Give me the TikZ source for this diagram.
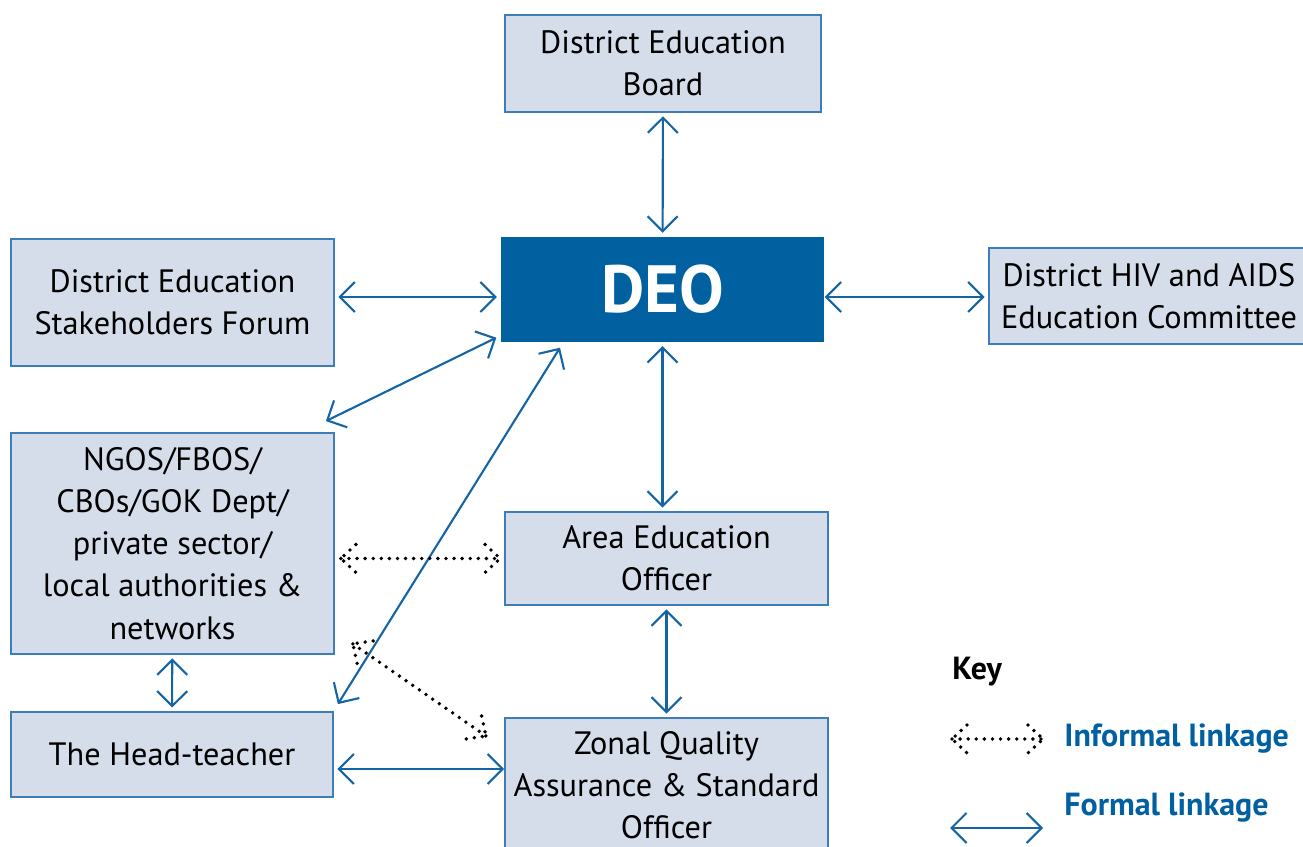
\documentclass[tikz,border=0pt]{standalone}
\usepackage{fontspec}
\setmainfont{PT Sans}
\usetikzlibrary{positioning}
\usetikzlibrary{arrows.meta}
\usetikzlibrary{decorations.markings}
\definecolor{deoblue}{HTML}{0060A0}
\definecolor{boxfill}{HTML}{D5DCEA}
\definecolor{boxline}{HTML}{3D7DB8}
\definecolor{linkblue}{HTML}{1565A5}

\begin{document}
\begin{tikzpicture}[
  font=\fontsize{9.2}{12}\selectfont,
  box/.style={draw=boxline, fill=boxfill, line width=0.5pt, align=center, inner sep=0pt},
  deobox/.style={fill=deoblue, text=white, inner sep=0pt, font=\fontsize{19}{22}\selectfont\bfseries},
  formal/.style={{Straight Barb[length=1.5mm,width=3mm]}-{Straight Barb[length=1.5mm,width=3mm]},
    draw=linkblue, line width=0.6pt, shorten <=1pt, shorten >=1pt},
  dotline/.style={black, line width=1.1pt, line cap=round, dash pattern=on 0pt off 2.3pt},
  informal/.style={dotline, postaction={decorate, decoration={markings,
    mark=at position 0 with {\draw[dotline] (0.15,0.14) -- (0,0) -- (0.15,-0.14);},
    mark=at position 1 with {\draw[dotline] (-0.15,0.14) -- (0,0) -- (-0.15,-0.14);}}}},
  keytext/.style={anchor=west, text=deoblue, font=\fontsize{9.1}{11}\selectfont\bfseries}
]
\useasboundingbox (0,0) rectangle (13.03,8.47);

% Boxes
\node[box, minimum width=3.16cm, minimum height=0.97cm] (board) at (6.63,7.835)
  {District Education\\Board};
\node[deobox, minimum width=3.23cm, minimum height=1.05cm] (deo) at (6.625,5.575) {DEO};
\node[box, minimum width=3.23cm, minimum height=1.27cm] (forum) at (1.725,5.445)
  {District Education\\Stakeholders Forum};
\node[box, minimum width=3.2cm, minimum height=0.96cm] (hiv) at (11.49,5.51)
  {District HIV and AIDS\\Education Committee};
\node[box, minimum width=3.23cm, minimum height=2.21cm] (ngo) at (1.725,3.035)
  {NGOS/FBOS/\\CBOs/GOK Dept/\\private sector/\\local authorities \&\\networks};
\node[box, minimum width=3.22cm, minimum height=0.85cm] (head) at (1.72,0.925)
  {The Head-teacher};
\node[box, minimum width=3.23cm, minimum height=0.93cm] (area) at (6.665,2.885)
  {Area Education\\Officer};
\node[box, minimum width=3.23cm, minimum height=1.34cm] (zonal) at (6.665,0.62)
  {Zonal Quality\\Assurance \& Standard\\Officer};

% Formal linkages
\draw[formal] (board) -- (deo);
\draw[formal] ([yshift=0.55mm]forum.east) -- ([yshift=0.55mm]forum.east -| deo.west);
\draw[formal, shorten <=0pt] ([yshift=-0.75mm]deo.east) -- ([yshift=-0.75mm]deo.east -| hiv.west);
\draw[formal] (deo.south) -- (deo.south |- area.north);
\draw[formal] (area) -- (zonal);
\draw[formal, shorten <=0pt, shorten >=0pt] ([shift={(-0.9mm,1.1mm)}]ngo.north east)
  -- ([shift={(-0.4mm,0.5mm)}]deo.south west);
\draw[formal, shorten <=0pt, shorten >=0pt] ([shift={(0.4mm,0.7mm)}]head.north east)
  -- ([shift={(-10.25mm,-0.5mm)}]deo.south);
\draw[formal] (ngo) -- (head);
\draw[formal, shorten >=0pt] ([yshift=-1.45mm]head.east) -- ([yshift=-1.45mm]head.east -| zonal.west);

% Informal linkages
\draw[informal] ([xshift=0.6mm]area.west -| ngo.east) -- ([xshift=-0.4mm]area.west);
\draw[informal] ([shift={(1.8mm,1.1mm)}]ngo.south east) -- ([shift={(-1.8mm,-1.9mm)}]zonal.north west);

% Key
\node[anchor=west, font=\fontsize{9.1}{11}\selectfont\bfseries] (key) at (9.4,1.75) {Key};
\coordinate (infa) at (9.52,1.08);
\coordinate (infb) at (10.43,1.08);
\draw[informal] (infa) -- (infb);
\node[keytext] (inflabel) at (10.52,1.08) {Informal linkage};
\coordinate (fora) at (9.5,0.19);
\coordinate (forb) at (10.43,0.19);
\draw[formal, shorten <=0pt, shorten >=0pt] (fora) -- (forb);
\node[keytext] (forlabel) at (10.52,0.39) {Formal linkage};

\end{tikzpicture}
\end{document}
